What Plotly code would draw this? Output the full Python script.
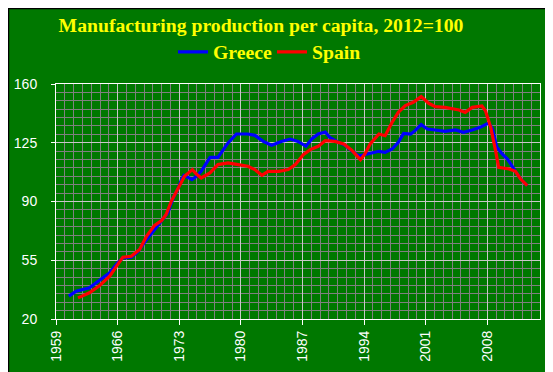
import plotly.graph_objects as go

# Greece: (year position, index 2012=100)
greece_x = [1960.45, 1961.3, 1962.8, 1963.9, 1965.1, 1966.0, 1966.6, 1967.55, 1968.3, 1969.1,
            1970.2, 1971.2, 1971.7, 1972.3, 1972.9, 1973.25, 1973.55, 1974.0, 1974.45, 1974.95,
            1975.5, 1976.5, 1977.4, 1978.55, 1979.5, 1980.8, 1981.6, 1982.55, 1983.5, 1984.6,
            1985.6, 1986.5, 1987.4, 1988.1, 1988.8, 1989.6, 1990.1, 1990.9, 1991.85, 1992.6,
            1993.2, 1993.6, 1994.1, 1994.9, 1995.7, 1996.4, 1997.2, 1997.9, 1998.5, 1999.3,
            1999.8, 2000.5, 2001.2, 2002.1, 2003.2, 2004.4, 2005.3, 2006.3, 2007.2, 2008.2,
            2008.6, 2009.1, 2009.7, 2010.3, 2011.05, 2011.8, 2012.55]
greece_y = [33.6, 36.6, 38.6, 43.0, 47.6, 53.4, 56.4, 56.8, 60.0, 66.0,
            73.2, 80.2, 83.1, 92.0, 98.0, 103.0, 105.6, 104.4, 103.0, 105.0,
            108.0, 116.3, 116.3, 124.9, 130.2, 130.2, 129.4, 125.8, 123.5, 125.8,
            127.2, 125.8, 122.9, 127.4, 130.2, 131.4, 128.2, 125.8, 123.5, 120.3,
            117.9, 117.3, 117.9, 118.9, 119.9, 119.3, 121.3, 125.3, 130.6, 130.2,
            132.2, 135.8, 133.2, 132.6, 131.8, 132.6, 131.2, 132.6, 134.2, 136.8,
            133.2, 122.3, 118.3, 115.3, 109.4, 103.4, 99.4]

# Spain
spain_x = [1961.5, 1962.8, 1963.9, 1965.1, 1966.0, 1966.6, 1967.55, 1968.5, 1969.3, 1970.2,
           1971.0, 1971.5, 1972.1, 1972.9, 1973.6, 1974.5, 1974.95, 1975.5, 1976.5, 1977.4,
           1978.55, 1979.7, 1980.8, 1981.6, 1982.4, 1983.1, 1984.3, 1985.4, 1986.2, 1987.1,
           1987.9, 1988.8, 1989.6, 1990.7, 1991.7, 1992.6, 1993.6, 1994.1, 1994.7, 1995.7,
           1996.4, 1997.2, 1997.9, 1998.7, 1999.6, 2000.5, 2001.35, 2002.1, 2003.2, 2004.8,
           2005.5, 2006.3, 2007.4, 2007.8, 2008.4, 2008.95, 2009.3, 2010.5, 2011.2, 2011.8,
           2012.55]
spain_y = [32.6, 35.6, 39.6, 45.5, 52.4, 56.8, 57.4, 61.4, 69.4, 75.8,
           78.6, 82.1, 90.1, 98.0, 105.0, 109.0, 106.4, 104.0, 107.0, 112.0,
           113.0, 112.0, 111.0, 109.0, 105.6, 108.0, 108.0, 109.0, 112.0, 117.9,
           120.9, 122.9, 126.2, 125.8, 124.3, 120.6, 114.9, 118.3, 124.3, 130.2,
           129.2, 137.2, 143.1, 147.1, 149.1, 152.5, 148.5, 146.5, 146.1, 144.5,
           143.1, 146.1, 146.9, 144.1, 134.2, 120.3, 110.4, 109.4, 108.0, 103.4,
           99.4]

x_ticks = [1959, 1966, 1973, 1980, 1987, 1994, 2001, 2008]
y_ticks = [20, 55, 90, 125, 160]

GREEN = "#007800"
L, R, T, B = 48, 21, 76, 61
W, H = 553, 372
pw, ph = W - L - R, H - T - B

fig = go.Figure()
fig.add_trace(go.Scatter(x=greece_x, y=greece_y, mode="lines", name="Greece",
                         line=dict(color="#0000ff", width=3.2)))
fig.add_trace(go.Scatter(x=spain_x, y=spain_y, mode="lines", name="Spain",
                         line=dict(color="#ff0000", width=3.2)))

fig.update_layout(
    width=W, height=H,
    margin=dict(l=L, r=R, t=T, b=B, autoexpand=False),
    paper_bgcolor=GREEN, plot_bgcolor=GREEN,
    title=dict(text="<b>Manufacturing production per capita, 2012=100</b>",
               font=dict(family="Liberation Serif", size=19.7, color="#ffff00"),
               x=253 / W, xanchor="center", y=1 - 17 / H, yanchor="middle"),
    legend=dict(orientation="h", x=(165 - L) / pw, xanchor="left",
                y=1 + (T - 44) / ph, yanchor="middle",
                font=dict(family="Liberation Serif", size=19.7, color="#ffff00", weight="bold"),
                bgcolor="rgba(0,0,0,0)", itemwidth=30, traceorder="normal",
                entrywidth=54, entrywidthmode="pixels"),
    showlegend=True,
    xaxis=dict(range=[1959, 2014], tickvals=x_ticks, ticktext=[str(v) for v in x_ticks],
               tickangle=-90, ticks="outside", ticklen=5, tickcolor="white", tickwidth=1,
               showline=True, linecolor="white", linewidth=1, mirror=True, automargin=False,
               showgrid=True, gridcolor="#c8c8c8", gridwidth=1, zeroline=False,
               minor=dict(dtick=1, tick0=1959, showgrid=True, gridcolor="#808080", gridwidth=1),
               tickfont=dict(family="Liberation Sans", size=14, color="white")),
    yaxis=dict(range=[20, 160], tickvals=y_ticks, ticktext=[str(v) for v in y_ticks],
               ticks="outside", ticklen=4, tickcolor="white", tickwidth=1,
               showline=True, linecolor="white", linewidth=1, mirror=True, automargin=False,
               showgrid=True, gridcolor="#c8c8c8", gridwidth=1, zeroline=False,
               ticklabelstandoff=11,
               minor=dict(dtick=5, tick0=20, showgrid=True, gridcolor="#808080", gridwidth=1),
               tickfont=dict(family="Liberation Sans", size=14, color="white")),
    shapes=[dict(type="rect", xref="paper", yref="paper",
                 x0=-(L - 0.5) / pw, x1=1 + (R - 0.5) / pw,
                 y0=-(B - 0.5) / ph, y1=1 + (T - 0.5) / ph,
                 line=dict(color="black", width=1.5), fillcolor="rgba(0,0,0,0)", layer="above")],
)

fig.write_html("out.html")
